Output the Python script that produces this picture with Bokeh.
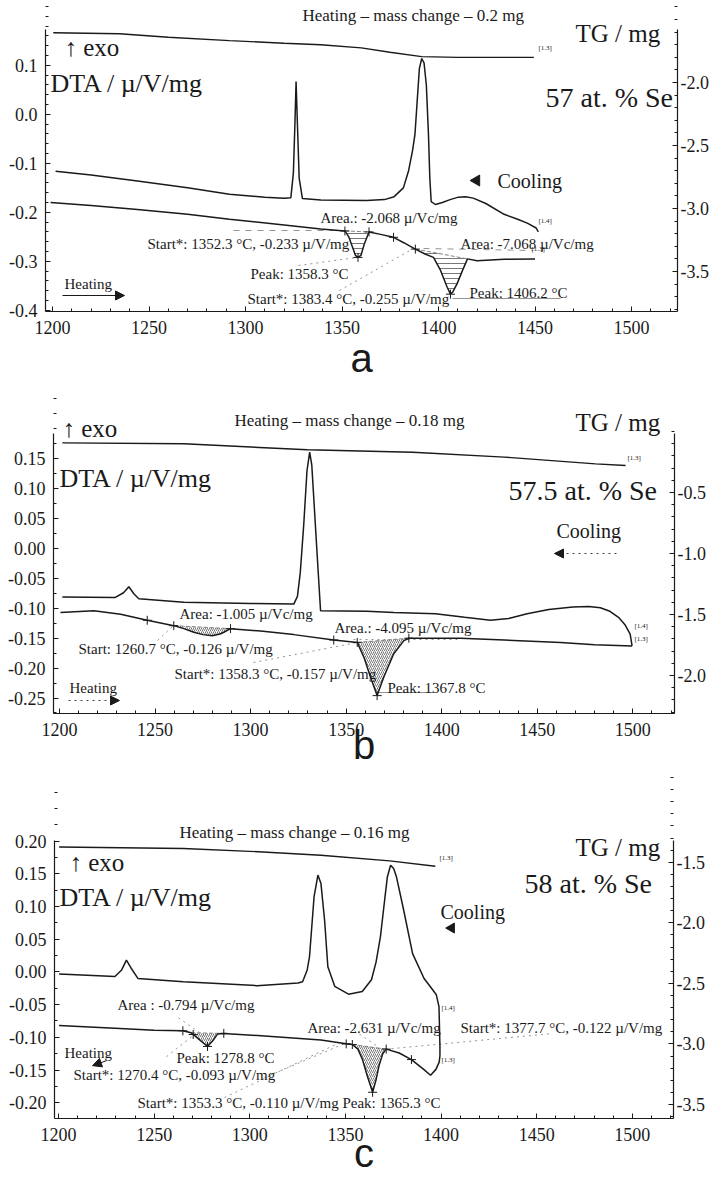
import numpy as np
from bokeh.plotting import figure
from bokeh.models import (Range1d, LinearAxis, FixedTicker, PrintfTickFormatter,
                          Label, Arrow, NormalHead)
from bokeh.layouts import column
from bokeh.embed import file_html
from bokeh.resources import INLINE

# ---------------- data : panel a (57 at.% Se) ----------------
a_tg_T = [1200.4, 1234.7, 1260.0, 1291.7, 1320.0, 1339.0, 1360.0, 1374.8, 1391.3, 1410.0, 1430.0, 1449.4]
a_tg = [-1.605, -1.613, -1.640, -1.667, -1.688, -1.700, -1.725, -1.760, -1.794, -1.800, -1.800, -1.800]
a_cool_T = [1201.6, 1220.0, 1244.0, 1270.0, 1291.7, 1310.0, 1320.0, 1323.5, 1324.8, 1325.6, 1326.2,
            1326.9, 1327.8, 1329.5, 1339.0, 1362.7, 1372.0, 1377.0, 1381.8, 1384.5, 1386.5, 1387.8,
            1389.0, 1390.1, 1391.3, 1392.5, 1393.7, 1394.8, 1395.5, 1396.2, 1398.4, 1402.0, 1406.0,
            1410.3, 1414.0, 1418.0, 1424.5, 1434.0, 1441.0, 1446.0, 1450.6, 1451.7]
a_cool = [-0.116, -0.124, -0.136, -0.150, -0.163, -0.169, -0.171, -0.170, -0.120, -0.020, 0.067,
          -0.020, -0.130, -0.172, -0.175, -0.176, -0.174, -0.168, -0.150, -0.115, -0.075, -0.041,
          0.030, 0.094, 0.114, 0.105, 0.060, -0.041, -0.130, -0.178, -0.184, -0.180, -0.174,
          -0.169, -0.168, -0.171, -0.182, -0.204, -0.214, -0.222, -0.232, -0.240]
a_heat_T = [1199.0, 1220.0, 1244.0, 1270.0, 1291.7, 1320.0, 1339.0, 1351.5, 1353.5, 1355.5, 1357.0,
            1358.3, 1359.8, 1361.5, 1364.0, 1370.0, 1376.7, 1382.0, 1388.0, 1393.0, 1397.4, 1401.0,
            1404.5, 1406.2, 1407.5, 1409.7, 1412.5, 1415.0, 1420.0, 1434.0, 1450.0]
a_heat = [-0.180, -0.186, -0.194, -0.204, -0.214, -0.226, -0.234, -0.238, -0.250, -0.272, -0.288,
          -0.292, -0.288, -0.265, -0.240, -0.245, -0.251, -0.262, -0.275, -0.285, -0.292, -0.318,
          -0.353, -0.367, -0.362, -0.345, -0.318, -0.295, -0.299, -0.296, -0.295]
a_dips = [(1351.5, 1364.0), (1388.0, 1415.0)]
a_marks = [1351.5, 1358.3, 1364.0, 1376.7, 1388.0, 1406.2]
a_dta_ticks = [-0.4, -0.3, -0.2, -0.1, 0.0, 0.1]
a_tg_ticks = [-3.5, -3.0, -2.5, -2.0]

# ---------------- data : panel b (57.5 at.% Se) ----------------
b_tg_T = [1201.5, 1265.0, 1329.7, 1384.8, 1432.7, 1480.5, 1496.2]
b_tg = [-0.093, -0.101, -0.150, -0.170, -0.210, -0.265, -0.279]
b_cool_T = [1201.5, 1229.0, 1233.5, 1236.3, 1239.0, 1241.5, 1265.0, 1300.0, 1322.6, 1324.5, 1326.0,
            1327.8, 1329.5, 1330.9, 1332.0, 1333.5, 1335.0, 1336.6, 1360.8, 1375.0, 1396.7, 1412.0,
            1425.5, 1435.0, 1444.7, 1456.0, 1468.6, 1477.0, 1483.0, 1488.0, 1492.5, 1496.0, 1498.6,
            1499.6]
b_cool = [-0.081, -0.082, -0.074, -0.064, -0.076, -0.084, -0.090, -0.092, -0.093, -0.080, -0.040,
          0.040, 0.130, 0.161, 0.140, 0.060, -0.020, -0.104, -0.105, -0.107, -0.109, -0.115,
          -0.120, -0.117, -0.109, -0.102, -0.098, -0.097, -0.099, -0.105, -0.115, -0.128, -0.143,
          -0.163]
b_heat_T = [1200.5, 1218.0, 1232.0, 1245.9, 1259.8, 1265.0, 1270.3, 1275.0, 1279.9, 1284.0, 1286.0,
            1289.5, 1305.2, 1322.6, 1343.5, 1355.8, 1359.3, 1362.7, 1366.2, 1369.7, 1374.9, 1380.2,
            1382.8, 1409.8, 1432.7, 1462.2, 1480.0, 1499.6]
b_heat = [-0.107, -0.104, -0.110, -0.120, -0.129, -0.134, -0.140, -0.144, -0.146, -0.143, -0.140,
          -0.134, -0.138, -0.144, -0.153, -0.157, -0.182, -0.215, -0.246, -0.215, -0.176, -0.154,
          -0.150, -0.150, -0.153, -0.157, -0.161, -0.163]
b_dips = [(1259.8, 1289.5), (1355.8, 1382.8)]
b_marks = [1245.9, 1259.8, 1289.5, 1343.5, 1355.8, 1366.2, 1382.8]
b_dta_ticks = [-0.25, -0.20, -0.15, -0.10, -0.05, 0.00, 0.05, 0.10, 0.15]
b_tg_ticks = [-2.0, -1.5, -1.0, -0.5]

# ---------------- data : panel c (58 at.% Se) ----------------
c_tg_T = [1200.3, 1265.3, 1300.0, 1337.2, 1373.1, 1397.0]
c_tg = [-1.374, -1.387, -1.410, -1.442, -1.489, -1.533]
c_cool_T = [1200.3, 1229.5, 1233.0, 1235.5, 1237.9, 1241.5, 1265.3, 1303.7, 1325.2, 1327.6, 1330.0,
            1331.2, 1333.6, 1335.6, 1337.2, 1339.1, 1340.8, 1344.4, 1351.6, 1358.8, 1363.6, 1366.0,
            1368.3, 1370.5, 1371.9, 1373.6, 1375.2, 1376.7, 1380.4, 1385.1, 1391.1, 1395.0, 1397.5,
            1398.9, 1399.4, 1399.4]
c_cool = [-0.003, -0.007, 0.003, 0.018, 0.006, -0.010, -0.015, -0.021, -0.017, -0.015, 0.003,
          0.023, 0.115, 0.148, 0.135, 0.079, 0.008, -0.022, -0.034, -0.030, -0.012, 0.015,
          0.054, 0.110, 0.145, 0.163, 0.158, 0.145, 0.095, 0.028, -0.010, -0.025, -0.035,
          -0.053, -0.114, -0.128]
c_heat_T = [1200.3, 1229.5, 1250.0, 1265.0, 1269.3, 1273.0, 1277.9, 1281.0, 1283.1, 1286.4, 1313.3,
            1337.2, 1350.4, 1353.6, 1356.5, 1358.9, 1361.5, 1364.2, 1366.0, 1367.5, 1369.5, 1371.3,
            1378.1, 1384.5, 1390.9, 1394.5, 1397.3, 1399.0, 1399.4]
c_heat = [-0.082, -0.086, -0.089, -0.090, -0.093, -0.102, -0.114, -0.104, -0.095, -0.094, -0.099,
          -0.104, -0.110, -0.111, -0.118, -0.134, -0.160, -0.184, -0.165, -0.144, -0.125, -0.118,
          -0.124, -0.134, -0.149, -0.158, -0.149, -0.138, -0.128]
c_dips = [(1269.3, 1286.4), (1353.6, 1371.3)]
c_marks = [1265.0, 1270.4, 1277.9, 1286.4, 1350.4, 1353.6, 1364.2, 1371.3, 1384.5]
c_dta_ticks = [-0.20, -0.15, -0.10, -0.05, 0.00, 0.05, 0.10, 0.15, 0.20]
c_tg_ticks = [-3.5, -3.0, -2.5, -2.0, -1.5]

x_ticks = [1200, 1250, 1300, 1350, 1400, 1450, 1500]

SERIF = "Liberation Serif"
SANS = "Liberation Sans"
INK = "#1a1a1a"
W = 716

# canvas geometry: FT frame top (= figure top), AT axis top, FB frame bottom
GEO = {
    "a": dict(FT=0, H=387, AT=29, FL=45, FR=677, FB=311, x=(1196.37, 1523.83),
              y=(-0.4024, 0.1732), tg=(-3.817, -1.579), ystep=0.02, yfmt="%.1f", ls=-1),
    "b": dict(FT=387, H=386, AT=433, FL=53, FR=674, FB=713, x=(1196.86, 1521.8),
              y=(-0.2759, 0.1923), tg=(-2.3115, -0.0164), ystep=0.025, yfmt="%.2f", ls=-16),
    "c": dict(FT=773, H=404, AT=840, FL=54, FR=673, FB=1119, x=(1197.9, 1521.5),
              y=(-0.2241, 0.2012), tg=(-3.615, -1.319), ystep=0.025, yfmt="%.2f", ls=-13),
}


def extend(r, g):
    per_px = (r[1] - r[0]) / (g["FB"] - g["AT"])
    return (r[0], r[1] + (g["AT"] - g["FT"]) * per_px)


def to_data(g, px, py):
    x = g["x"][0] + (px - g["FL"]) / (g["FR"] - g["FL"]) * (g["x"][1] - g["x"][0])
    y = g["y"][1] - (py - g["AT"]) / (g["FB"] - g["AT"]) * (g["y"][1] - g["y"][0])
    return x, y


def build(g, tgT, tg, coolT, cool, heatT, heat, dips, marks, dta_ticks, tg_ticks,
          hatch, texts, leaders, arrows, tris, letter):
    p = figure(width=W, height=g["H"], x_range=Range1d(*g["x"]),
               y_range=Range1d(*extend(g["y"], g)),
               output_backend="svg", toolbar_location=None,
               min_border_left=g["FL"], min_border_right=W - g["FR"],
               min_border_top=0, min_border_bottom=g["FT"] + g["H"] - g["FB"])
    p.frame_align = False
    p.outline_line_color = None
    p.grid.visible = False
    p.background_fill_color = "white"
    p.border_fill_color = "white"
    p.extra_y_ranges = {"tg": Range1d(*extend(g["tg"], g))}
    raxis = LinearAxis(y_range_name="tg")
    p.add_layout(raxis, "right")

    for ax in p.axis:
        ax.axis_line_color = INK
        ax.axis_line_width = 1.2
        ax.major_tick_line_color = INK
        ax.minor_tick_line_color = INK
        ax.major_tick_in = 5
        ax.major_tick_out = 0
        ax.minor_tick_in = 3
        ax.minor_tick_out = 0
        ax.major_label_text_font = SERIF
        ax.major_label_text_font_size = "18px"
        ax.major_label_text_color = INK

    xax = p.below[0]
    xax.ticker = FixedTicker(ticks=x_ticks, minor_ticks=list(np.arange(1190, 1530, 10)))
    xax.formatter = PrintfTickFormatter(format="%d")
    xax.major_label_standoff = 9
    xax.axis_label = letter
    xax.axis_label_text_font = SANS
    xax.axis_label_text_font_size = "40px"
    xax.axis_label_text_font_style = "normal"
    xax.axis_label_text_color = INK
    xax.axis_label_standoff = g["ls"]

    lax = p.left[0]
    lax.bounds = g["y"]
    lax.ticker = FixedTicker(ticks=dta_ticks,
                             minor_ticks=list(np.round(np.arange(-0.5, 0.3, g["ystep"]), 4)))
    lax.formatter = PrintfTickFormatter(format=g["yfmt"])
    lax.major_label_standoff = 8

    raxis.bounds = g["tg"]
    raxis.ticker = FixedTicker(ticks=tg_ticks, minor_ticks=list(np.round(np.arange(-4.0, 0.1, 0.1), 3)))
    raxis.formatter = PrintfTickFormatter(format="%.1f")
    raxis.major_label_standoff = 3

    # hatched peak areas
    for d0, d1 in dips:
        inner = [(t, v) for t, v in zip(heatT, heat) if d0 < t < d1]
        xs = [d0] + [t for t, _ in inner] + [d1]
        ys = [float(np.interp(d0, heatT, heat))] + [v for _, v in inner] + [float(np.interp(d1, heatT, heat))]
        p.patch(xs, ys, fill_color=None, line_color=None, hatch_pattern=hatch[0],
                hatch_color="#555555", hatch_scale=hatch[1], hatch_weight=0.8)
        p.line([xs[0], xs[-1]], [ys[0], ys[-1]], line_color="#666666", line_width=0.8,
               line_dash="4 2")

    # leader lines
    for (x1, y1, x2, y2, dash) in leaders:
        d1 = to_data(g, x1, y1)
        d2 = to_data(g, x2, y2)
        p.line([d1[0], d2[0]], [d1[1], d2[1]], line_color="#888888", line_width=0.9,
               line_dash=dash)

    # curves
    p.line(tgT, tg, y_range_name="tg", line_color=INK, line_width=1.4)
    p.line(coolT, cool, line_color=INK, line_width=1.5)
    p.line(heatT, heat, line_color=INK, line_width=1.5)
    p.scatter(marks, np.interp(marks, heatT, heat), marker="cross", size=9,
              line_color=INK, line_width=1)

    for (x1, y1, x2, y2, dash) in arrows:
        d1 = to_data(g, x1, y1)
        d2 = to_data(g, x2, y2)
        p.add_layout(Arrow(end=NormalHead(size=9, fill_color=INK, line_color=INK),
                           x_start=d1[0], y_start=d1[1], x_end=d2[0], y_end=d2[1],
                           line_color="#444444" if dash != "solid" else INK,
                           line_width=1, line_dash=dash))
    for (x1, y1, sz, ang) in tris:
        d = to_data(g, x1, y1)
        p.scatter([d[0]], [d[1]], marker="triangle", size=sz, angle=ang,
                  fill_color=INK, line_color=INK)

    for (txt, px, py, size) in texts:
        d = to_data(g, px, py)
        p.add_layout(Label(x=d[0], y=d[1], text=txt, text_font=SERIF,
                           text_font_size=f"{size}px", text_color=INK,
                           text_baseline="middle", text_align="left"))
    return p


PI2 = np.pi / 2
HDR, EXO, DTA, TGL, COMP, COOL, ANN, HEAT = 17, 25, 26, 25, 28, 20, 15, 15

pa = build(GEO["a"], a_tg_T, a_tg, a_cool_T, a_cool, a_heat_T, a_heat, a_dips, a_marks,
           a_dta_ticks, a_tg_ticks, ("-", 5),
           [("Heating – mass change – 0.2 mg", 302, 15, HDR),
            ("↑ exo", 64, 47, EXO),
            ("DTA / µ/V/mg", 50, 83, DTA),
            ("TG / mg", 575, 33, TGL),
            ("57 at. % Se", 545, 97, COMP),
            ("Cooling", 497, 180, COOL),
            ("Area.: -2.068 µ/Vc/mg", 320, 217, ANN),
            ("Start*: 1352.3 °C, -0.233 µ/V/mg", 147, 243, ANN),
            ("Area: -7.068 µ/Vc/mg", 460, 243, ANN),
            ("Peak: 1358.3 °C", 250, 273, ANN),
            ("Start*: 1383.4 °C, -0.255 µ/V/mg", 247, 298, ANN),
            ("Peak: 1406.2 °C", 469, 292, ANN),
            ("Heating", 64, 283, HEAT),
            ("[1.3]", 538, 47, 7), ("[1.4]", 538, 220, 7), ("[1.3]", 531, 248, 7)],
           [(233, 230, 343, 230, "dashed"), (298, 265, 356, 257, "dotted"),
            (339, 290, 413, 248, "dotted"), (452, 298, 560, 298, "solid"),
            (423, 248, 533, 250, "dashed")],
           [(62, 295, 124, 295, "solid")],
           [(476, 180, 11, PI2)],
           "a")

pb = build(GEO["b"], b_tg_T, b_tg, b_cool_T, b_cool, b_heat_T, b_heat, b_dips, b_marks,
           b_dta_ticks, b_tg_ticks, ("/", 4),
           [("Heating – mass change – 0.18 mg", 234, 420, HDR),
            ("↑ exo", 62, 428, EXO),
            ("DTA / µ/V/mg", 59, 478, DTA),
            ("TG / mg", 575, 422, TGL),
            ("57.5 at. % Se", 508, 490, COMP),
            ("Cooling", 556, 530, COOL),
            ("Area: -1.005 µ/Vc/mg", 179, 613, ANN),
            ("Start: 1260.7 °C, -0.126  µ/V/mg", 78, 648, ANN),
            ("Area.: -4.095 µ/Vc/mg", 334, 627, ANN),
            ("Start*: 1358.3 °C, -0.157 µ/V/mg", 174, 673, ANN),
            ("Peak: 1367.8 °C", 387, 687, ANN),
            ("Heating", 69, 687, HEAT),
            ("[1.4]", 634, 625, 7), ("[1.3]", 634, 638, 7), ("[1.3]", 627, 457, 7)],
           [(157, 640, 173, 625, "dotted"), (253, 662, 357, 642, "dotted"),
            (353, 639, 460, 639, "dotted"), (378, 692, 433, 692, "solid")],
           [(68, 700, 119, 700, "dotted"), (616, 553, 554, 553, "dotted")],
           [],
           "b")

pc = build(GEO["c"], c_tg_T, c_tg, c_cool_T, c_cool, c_heat_T, c_heat, c_dips, c_marks,
           c_dta_ticks, c_tg_ticks, ("/", 4),
           [("Heating – mass change – 0.16 mg", 179, 832, HDR),
            ("↑ exo", 69, 862, EXO),
            ("DTA / µ/V/mg", 59, 897, DTA),
            ("TG / mg", 575, 847, TGL),
            ("58 at. % Se", 524, 883, COMP),
            ("Cooling", 440, 912, COOL),
            ("Area : -0.794 µ/Vc/mg", 117, 1005, ANN),
            ("Area: -2.631 µ/Vc/mg", 307, 1028, ANN),
            ("Start*: 1377.7 °C, -0.122 µ/V/mg", 460, 1028, ANN),
            ("Heating", 64, 1053, HEAT),
            ("Peak: 1278.8 °C", 176, 1058, ANN),
            ("Start*: 1270.4 °C, -0.093  µ/V/mg", 73, 1075, ANN),
            ("Start*: 1353.3 °C, -0.110 µ/V/mg Peak: 1365.3 °C", 137, 1103, ANN),
            ("[1.3]", 439, 858, 7), ("[1.4]", 441, 1008, 7), ("[1.3]", 441, 1060, 7)],
           [(178, 1018, 209, 1040, "dotted"), (166, 1057, 195, 1034, "dotted"),
            (264, 1078, 346, 1043, "dotted"), (224, 1098, 341, 1042, "dotted"),
            (354, 1031, 376, 1046, "dotted"), (391, 1049, 550, 1034, "dotted")],
           [(106, 1061, 92, 1066, "solid")],
           [(451, 928, 10, PI2)],
           "c")

layout = column(pa, pb, pc)
open("out.html", "w").write(file_html(layout, INLINE))
